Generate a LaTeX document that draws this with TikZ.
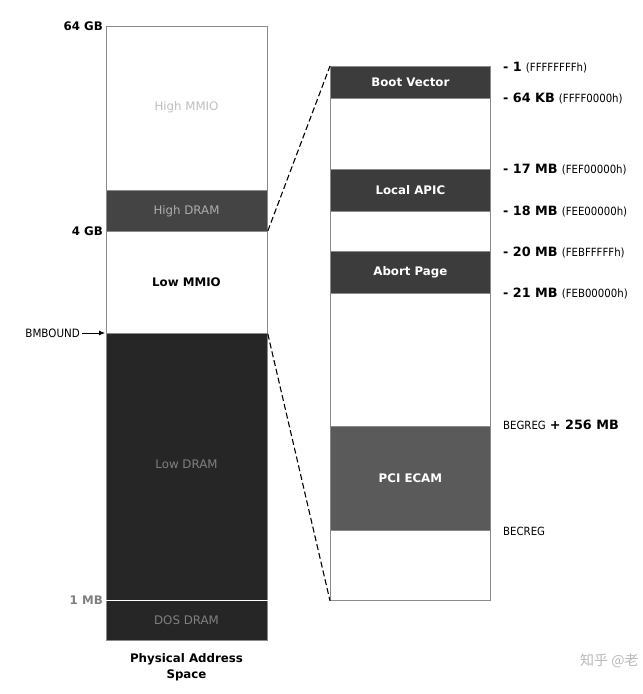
\documentclass[tikz,border=0pt]{standalone}
\usepackage{fontspec}
\setmainfont{DejaVu Sans}
\newfontfamily\condfont{DejaVu Sans Condensed}
\newfontfamily\cjk{Noto Sans CJK SC}
\newcommand\hexfont{\condfont\fontsize{11.3}{13}\selectfont}
\usetikzlibrary{arrows.meta}
\definecolor{bordergray}{HTML}{8A8A8A}
\definecolor{highdram}{HTML}{444444}
\definecolor{lowdram}{HTML}{262626}
\definecolor{darkblk}{HTML}{3C3C3C}
\definecolor{ecam}{HTML}{5A5A5A}
\tikzset{
  region/.style={draw=bordergray, line width=0.8pt, anchor=north west, inner sep=0pt, minimum width=161pt},
  rregion/.style={draw=bordergray, line width=0.8pt, anchor=north west, inner sep=0pt, minimum width=160pt},
  lbl/.style={font=\fontsize{11.8}{15}\selectfont},
  blbl/.style={font=\bfseries\fontsize{11.8}{15.5}\selectfont},
  addr/.style={anchor=west, inner sep=0pt, font=\fontsize{12.8}{14}\selectfont},
  zoomline/.style={line width=1.1pt, dash pattern=on 6pt off 3pt},
}
\begin{document}
\begin{tikzpicture}[x=1pt,y=-1pt]
\useasboundingbox (0,0) rectangle (643,694);
% left column
\node[region, fill=white, minimum height=164pt] (highmmio) at (106,26) {};
\node[region, fill=highdram, minimum height=41pt] (highdram) at (106,190) {};
\node[region, fill=white, minimum height=102pt] (lowmmio) at (106,231) {};
\node[region, fill=lowdram, minimum height=267pt] (lowdram) at (106,333) {};
\node[region, fill=lowdram, minimum height=40pt] (dosdram) at (106,600) {};
\draw[white, line width=1pt] (lowdram.south west) -- (lowdram.south east);
\node[lbl, text=black!25] (thighmmio) at (186.5,107) {High MMIO};
\node[lbl, text=black!32] (thighdram) at (186.5,211) {High DRAM};
\node[blbl, text=black] (tlowmmio) at (186.5,282) {Low MMIO};
\node[lbl, text=black!50] (tlowdram) at (186.5,464) {Low DRAM};
\node[lbl, text=black!50] (tdosdram) at (186.5,620) {DOS DRAM};
\node[blbl, align=center] (title) at (186.5,667) {Physical Address\\Space};
% left labels
\node[blbl, anchor=east, inner sep=1pt] (l64) at (104,26) {64 GB};
\node[blbl, anchor=east, inner sep=1pt] (l4) at (104,231) {4 GB};
\node[blbl, anchor=east, inner sep=1pt, text=black!50] (l1) at (104,600) {1 MB};
\node[anchor=east, inner sep=0pt, font=\condfont\fontsize{11.5}{13}\selectfont] (lbm) at (80,333) {BMBOUND};
\coordinate (bmtip) at (105,333);
\draw[-{Latex[length=6pt,width=5pt]}, line width=0.8pt] (lbm.east) ++(2,0) -- (bmtip);
% right column
\node[rregion, fill=white, minimum height=534pt] (detail) at (330,66) {};
\node[rregion, fill=darkblk, minimum height=32pt] (boot) at (330,66) {};
\node[rregion, fill=darkblk, minimum height=42pt] (apic) at (330,169) {};
\node[rregion, fill=darkblk, minimum height=42pt] (abort) at (330,251) {};
\node[rregion, fill=ecam, minimum height=104pt] (pci) at (330,426) {};
\node[blbl, text=white] (tboot) at (boot.center) {Boot Vector};
\node[blbl, text=white] (tapic) at (apic.center) {Local APIC};
\node[blbl, text=white] (tabort) at (abort.center) {Abort Page};
\node[blbl, text=white] (tpci) at (pci.center) {PCI ECAM};
% dashed zoom lines
\draw[zoomline] (lowmmio.north east) -- (detail.north west);
\draw[zoomline] (lowmmio.south east) -- (detail.south west);
% right labels
\node[addr] (a1) at (503,68) {\textbf{- 1} {\hexfont(FFFFFFFFh)}};
\node[addr] (a2) at (503,98) {\textbf{- 64 KB} {\hexfont(FFFF0000h)}};
\node[addr] (a3) at (503,170) {\textbf{- 17 MB} {\hexfont(FEF00000h)}};
\node[addr] (a4) at (503,211) {\textbf{- 18 MB} {\hexfont(FEE00000h)}};
\node[addr] (a5) at (503,252) {\textbf{- 20 MB} {\hexfont(FEBFFFFFh)}};
\node[addr] (a6) at (503,293) {\textbf{- 21 MB} {\hexfont(FEB00000h)}};
\node[addr] (a7) at (503,425) {{\hexfont BEGREG} \textbf{+ 256 MB}};
\node[addr] (a8) at (503,531) {{\hexfont BECREG}};
% watermark
\node[anchor=west, inner sep=0pt, text=black!28, font=\cjk\fontsize{14}{16}\selectfont] (wm) at (580,661) {知乎 @老};
\end{tikzpicture}
\end{document}
